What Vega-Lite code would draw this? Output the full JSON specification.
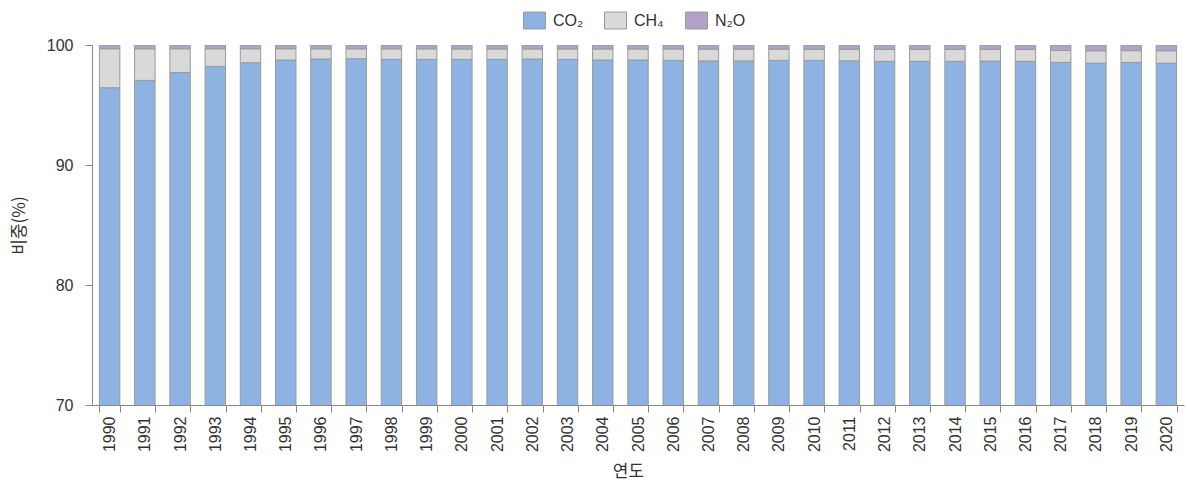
{
  "$schema": "https://vega.github.io/schema/vega-lite/v6.json",
  "autosize": {"type": "none"},
  "width": 1092,
  "height": 360,
  "padding": {"left": 92, "top": 45, "right": 4, "bottom": 84},
  "background": "white",
  "data": {
    "values": [
      {"year": "1990", "CO₂": 96.44, "CH₄": 3.25, "N₂O": 0.31},
      {"year": "1991", "CO₂": 97.05, "CH₄": 2.64, "N₂O": 0.31},
      {"year": "1992", "CO₂": 97.70, "CH₄": 1.99, "N₂O": 0.31},
      {"year": "1993", "CO₂": 98.22, "CH₄": 1.47, "N₂O": 0.31},
      {"year": "1994", "CO₂": 98.52, "CH₄": 1.17, "N₂O": 0.31},
      {"year": "1995", "CO₂": 98.75, "CH₄": 0.94, "N₂O": 0.31},
      {"year": "1996", "CO₂": 98.83, "CH₄": 0.85, "N₂O": 0.32},
      {"year": "1997", "CO₂": 98.86, "CH₄": 0.82, "N₂O": 0.32},
      {"year": "1998", "CO₂": 98.80, "CH₄": 0.88, "N₂O": 0.32},
      {"year": "1999", "CO₂": 98.80, "CH₄": 0.88, "N₂O": 0.32},
      {"year": "2000", "CO₂": 98.80, "CH₄": 0.87, "N₂O": 0.33},
      {"year": "2001", "CO₂": 98.80, "CH₄": 0.87, "N₂O": 0.33},
      {"year": "2002", "CO₂": 98.83, "CH₄": 0.84, "N₂O": 0.33},
      {"year": "2003", "CO₂": 98.80, "CH₄": 0.87, "N₂O": 0.33},
      {"year": "2004", "CO₂": 98.75, "CH₄": 0.92, "N₂O": 0.33},
      {"year": "2005", "CO₂": 98.75, "CH₄": 0.92, "N₂O": 0.33},
      {"year": "2006", "CO₂": 98.72, "CH₄": 0.95, "N₂O": 0.33},
      {"year": "2007", "CO₂": 98.67, "CH₄": 0.99, "N₂O": 0.34},
      {"year": "2008", "CO₂": 98.67, "CH₄": 0.99, "N₂O": 0.34},
      {"year": "2009", "CO₂": 98.72, "CH₄": 0.94, "N₂O": 0.34},
      {"year": "2010", "CO₂": 98.72, "CH₄": 0.93, "N₂O": 0.35},
      {"year": "2011", "CO₂": 98.68, "CH₄": 0.97, "N₂O": 0.35},
      {"year": "2012", "CO₂": 98.64, "CH₄": 1.00, "N₂O": 0.36},
      {"year": "2013", "CO₂": 98.64, "CH₄": 1.00, "N₂O": 0.36},
      {"year": "2014", "CO₂": 98.64, "CH₄": 1.00, "N₂O": 0.36},
      {"year": "2015", "CO₂": 98.66, "CH₄": 0.98, "N₂O": 0.36},
      {"year": "2016", "CO₂": 98.64, "CH₄": 0.99, "N₂O": 0.37},
      {"year": "2017", "CO₂": 98.55, "CH₄": 0.99, "N₂O": 0.46},
      {"year": "2018", "CO₂": 98.48, "CH₄": 1.04, "N₂O": 0.48},
      {"year": "2019", "CO₂": 98.55, "CH₄": 0.98, "N₂O": 0.47},
      {"year": "2020", "CO₂": 98.48, "CH₄": 1.04, "N₂O": 0.48}
    ]
  },
  "transform": [
    {"fold": ["CO₂", "CH₄", "N₂O"], "as": ["gas", "value"]},
    {"window": [{"op": "row_number", "as": "stackIdx"}], "groupby": ["year"]}
  ],
  "mark": {"type": "bar", "clip": true, "stroke": "#9a9a9a", "strokeWidth": 1},
  "encoding": {
    "x": {
      "field": "year",
      "type": "ordinal",
      "scale": {"paddingInner": 0.42, "paddingOuter": 0.21},
      "axis": {
        "title": "연도",
        "titleFont": "Noto Sans CJK KR",
        "titleFontSize": 17,
        "titleFontWeight": "normal",
        "titleColor": "#333333",
        "titlePadding": 12,
        "titleX": 536,
        "labelFont": "Liberation Sans",
        "labelFontSize": 16,
        "labelColor": "#333333",
        "labelAngle": 270,
        "labelPadding": 4,
        "tickBand": "extent",
        "tickSize": 7,
        "tickColor": "#888888",
        "domainColor": "#888888"
      }
    },
    "y": {
      "field": "value",
      "type": "quantitative",
      "stack": "zero",
      "scale": {"domain": [70, 100], "nice": false, "zero": false},
      "axis": {
        "title": "비중(%)",
        "titleFont": "Noto Sans CJK KR",
        "titleFontSize": 17,
        "titleFontWeight": "normal",
        "titleColor": "#333333",
        "titlePadding": 18,
        "values": [70, 80, 90, 100],
        "labelFont": "Liberation Sans",
        "labelFontSize": 16,
        "labelColor": "#333333",
        "labelPadding": 12,
        "tickSize": 7,
        "tickColor": "#888888",
        "domainColor": "#888888",
        "grid": false
      }
    },
    "order": {"field": "stackIdx", "type": "quantitative", "sort": "ascending"},
    "color": {
      "field": "gas",
      "type": "nominal",
      "sort": ["CO₂", "CH₄", "N₂O"],
      "scale": {"domain": ["CO₂", "CH₄", "N₂O"], "range": ["#8db3e2", "#d9d9d9", "#b3a2c7"]},
      "legend": {
        "title": null,
        "orient": "none",
        "direction": "horizontal",
        "legendX": 431,
        "legendY": -36,
        "symbolType": "M-1,-0.77L1,-0.77L1,0.77L-1,0.77Z",
        "symbolSize": 484,
        "symbolStrokeColor": "#9a9a9a",
        "symbolStrokeWidth": 1,
        "labelFont": "Liberation Sans",
        "labelFontSize": 16,
        "labelColor": "#333333",
        "labelOffset": 7,
        "gridAlign": "all",
        "columnPadding": 18
      }
    }
  },
  "config": {"view": {"stroke": null}}
}
